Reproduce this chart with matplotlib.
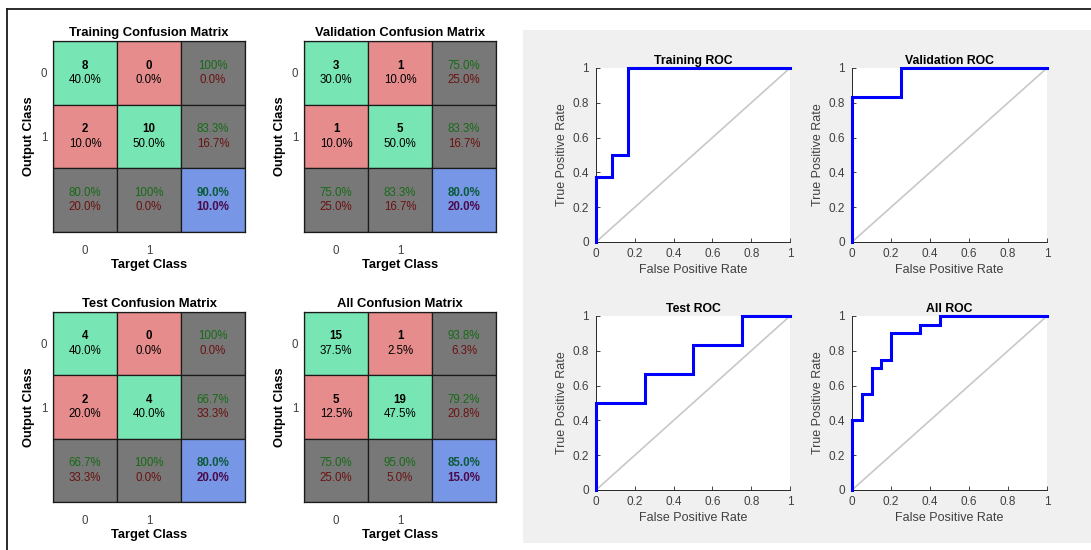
import matplotlib
matplotlib.use("Agg")
import matplotlib.pyplot as plt
from matplotlib.patches import Rectangle
from matplotlib.lines import Line2D

plt.rcParams['font.family'] = ['Liberation Sans', 'DejaVu Sans']

# ---------------- data ----------------
cm_titles = ['Training Confusion Matrix', 'Validation Confusion Matrix',
             'Test Confusion Matrix', 'All Confusion Matrix']
class_labels = ['0', '1']

cm_counts = [[[8, 0], [2, 10]],
             [[3, 1], [1, 5]],
             [[4, 0], [2, 4]],
             [[15, 1], [5, 19]]]
cm_pcts = [[[40.0, 0.0], [10.0, 50.0]],
           [[30.0, 10.0], [10.0, 50.0]],
           [[40.0, 0.0], [20.0, 40.0]],
           [[37.5, 2.5], [12.5, 47.5]]]
row_acc = [[100.0, 83.3], [75.0, 83.3], [100.0, 66.7], [93.8, 79.2]]
row_err = [[0.0, 16.7], [25.0, 16.7], [0.0, 33.3], [6.3, 20.8]]
col_acc = [[80.0, 100.0], [75.0, 83.3], [66.7, 100.0], [75.0, 95.0]]
col_err = [[20.0, 0.0], [25.0, 16.7], [33.3, 0.0], [25.0, 5.0]]
overall_acc = [90.0, 80.0, 80.0, 85.0]
overall_err = [10.0, 20.0, 20.0, 15.0]

roc_titles = ['Training ROC', 'Validation ROC', 'Test ROC', 'All ROC']
roc_fpr = [[0, 0, 0.0833, 0.0833, 0.1667, 0.1667, 1],
           [0, 0, 0.25, 0.25, 1],
           [0, 0, 0.25, 0.25, 0.5, 0.5, 0.75, 0.75, 1],
           [0, 0, 0.05, 0.05, 0.10, 0.10, 0.15, 0.15, 0.20, 0.20, 0.35, 0.35, 0.45, 0.45, 1]]
roc_tpr = [[0, 0.375, 0.375, 0.5, 0.5, 1, 1],
           [0, 0.8333, 0.8333, 1, 1],
           [0, 0.5, 0.5, 0.6667, 0.6667, 0.8333, 0.8333, 1, 1],
           [0, 0.4, 0.4, 0.55, 0.55, 0.70, 0.70, 0.75, 0.75, 0.90, 0.90, 0.95, 0.95, 1, 1]]
roc_ticks = [0, 0.2, 0.4, 0.6, 0.8, 1]
roc_ticklabels = ['0', '0.2', '0.4', '0.6', '0.8', '1']

# ---------------- styles ----------------
W, H, DPI = 1091, 550, 100
GREEN = '#78e6b4'
RED = '#e68c8c'
GREY = '#787878'
BLUE = '#7896e6'
TXT_G = '#166b16'
TXT_R = '#6b1212'
AXC = '#262626'
TICKC = '#404040'

fig = plt.figure(figsize=(W / DPI, H / DPI), dpi=DPI)
fig.patch.set_facecolor('white')


def ax_px(l, t, r, b):
    return fig.add_axes([l / W, 1 - b / H, (r - l) / W, (b - t) / H])


# background panel for ROC and frame lines
fig.patches.append(Rectangle((523 / W, 1 - 543 / H), (W - 523) / W, (543 - 30) / H,
                             transform=fig.transFigure, facecolor='#f0f0f0',
                             edgecolor='none', zorder=-5))
fig.lines.append(Line2D([7 / W, 1], [1 - 9 / H, 1 - 9 / H], transform=fig.transFigure,
                        color='#1a1a1a', lw=1.3, zorder=-5))
fig.lines.append(Line2D([7 / W, 7 / W], [1 - 9 / H, 0], transform=fig.transFigure,
                        color='#1a1a1a', lw=1.3, zorder=-5))


def fmt(v):
    return '100%' if v >= 99.95 else f'{v:.1f}%'


cm_boxes = [(53, 41, 245, 232), (304, 41, 496, 232),
            (53, 312, 245, 502), (304, 312, 496, 502)]

for k in range(4):
    ax = ax_px(*cm_boxes[k])
    ax.set_xlim(0, 3)
    ax.set_ylim(3, 0)
    for i in range(3):
        for j in range(3):
            if i < 2 and j < 2:
                fc = GREEN if i == j else RED
            elif i == 2 and j == 2:
                fc = BLUE
            else:
                fc = GREY
            ax.add_patch(Rectangle((j, i), 1, 1, facecolor=fc, edgecolor='#1a1a1a', lw=0.9))
            cx, cy = j + 0.5, i + 0.5
            d = 0.115
            if i < 2 and j < 2:
                ax.text(cx, cy - d, str(cm_counts[k][i][j]), ha='center', va='center',
                        fontsize=8.3, fontweight='bold', color='black')
                ax.text(cx, cy + d, fmt(cm_pcts[k][i][j]), ha='center', va='center',
                        fontsize=8.3, color='black')
            else:
                if i < 2:
                    a, e = row_acc[k][i], row_err[k][i]
                    bold = 'normal'
                elif j < 2:
                    a, e = col_acc[k][j], col_err[k][j]
                    bold = 'normal'
                else:
                    a, e = overall_acc[k], overall_err[k]
                    bold = 'bold'
                ax.text(cx, cy - d, fmt(a), ha='center', va='center', fontsize=8.3,
                        fontweight=bold, color=TXT_G if bold == 'normal' else '#0a5a3a')
                ax.text(cx, cy + d, fmt(e), ha='center', va='center', fontsize=8.3,
                        fontweight=bold, color=TXT_R if bold == 'normal' else '#4a0a4a')
    ax.set_xticks([0.5, 1.5])
    ax.set_xticklabels(class_labels)
    ax.set_yticks([0.5, 1.5])
    ax.set_yticklabels(class_labels)
    ax.tick_params(length=0, labelsize=8.3, labelcolor=TICKC)
    ax.tick_params(axis='x', pad=9)
    ax.tick_params(axis='y', pad=4)
    for s in ax.spines.values():
        s.set_color('#1a1a1a')
        s.set_linewidth(0.9)
    ax.set_title(cm_titles[k], fontsize=9.4, fontweight='bold', pad=3.5)
    ax.set_xlabel('Target Class', fontsize=9.3, fontweight='bold', labelpad=2)
    ax.set_ylabel('Output Class', fontsize=9.3, fontweight='bold', labelpad=4)

roc_boxes = [(596, 68, 790, 242), (852, 68, 1047, 242),
             (596, 316, 790, 490), (852, 316, 1047, 490)]

for k in range(4):
    ax = ax_px(*roc_boxes[k])
    ax.set_facecolor('white')
    ax.plot([0, 1], [0, 1], color='#c8c8c8', lw=1.2, zorder=2)
    ax.plot(roc_fpr[k], roc_tpr[k], color='#0000ff', lw=2.2, zorder=3,
            solid_joinstyle='miter', clip_on=False)
    ax.set_xlim(0, 1)
    ax.set_ylim(0, 1)
    ax.set_xticks(roc_ticks)
    ax.set_xticklabels(roc_ticklabels)
    ax.set_yticks(roc_ticks)
    ax.set_yticklabels(roc_ticklabels)
    ax.spines['top'].set_visible(False)
    ax.spines['right'].set_visible(False)
    for s in ('left', 'bottom'):
        ax.spines[s].set_color(AXC)
        ax.spines[s].set_linewidth(0.7)
    ax.tick_params(direction='in', length=3, width=0.6, color=AXC,
                   labelsize=8.5, labelcolor=TICKC)
    ax.tick_params(axis='x', pad=4)
    ax.tick_params(axis='y', pad=5)
    ax.set_title(roc_titles[k], fontsize=8.8, fontweight='bold', pad=3)
    ax.set_xlabel('False Positive Rate', fontsize=9, color=TICKC, labelpad=3)
    ax.set_ylabel('True Positive Rate', fontsize=9, color=TICKC, labelpad=3)

fig.savefig('out.png', dpi=DPI)
